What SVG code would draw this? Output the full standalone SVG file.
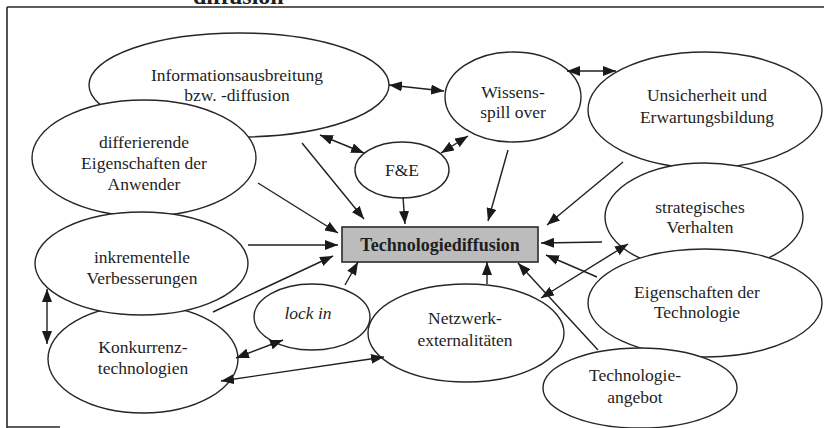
<svg xmlns="http://www.w3.org/2000/svg" width="824" height="428" viewBox="0 0 824 428">
  <defs>
    <marker id="ah" viewBox="0 0 13 10" refX="13" refY="5" markerWidth="13" markerHeight="10" markerUnits="userSpaceOnUse" orient="auto-start-reverse">
      <path d="M0,0 L13,5 L0,10 z" fill="#1a1a1a"/>
    </marker>
  </defs>
  <style>
    .frame { stroke: #2a2a2a; stroke-width: 1.6; fill: none; }
    .node ellipse { fill: #ffffff; stroke: #262626; stroke-width: 1.4; }
    .lbl { font-family: "Liberation Serif", "Times New Roman", serif; font-size: 17.5px; fill: #1e1e1e; text-anchor: middle; }
    .it { font-style: italic; }
    .title { font-family: "Liberation Serif", "Times New Roman", serif; font-size: 24px; font-weight: bold; fill: #1e1e1e; }
    .box { fill: #bcbcbc; stroke: #2a2a2a; stroke-width: 1.6; }
    .boxlbl { font-family: "Liberation Serif", "Times New Roman", serif; font-size: 18px; font-weight: bold; fill: #1e1e1e; text-anchor: middle; }
    .c line { stroke: #1f1f1f; stroke-width: 1.4; fill: none; }
    .one { marker-end: url(#ah); }
    .two { marker-start: url(#ah); marker-end: url(#ah); }
  </style>

  <rect width="824" height="428" fill="#ffffff"/>

  <!-- caption cut by the top edge and the frame -->
  <text class="title" x="193" y="4">diffusion</text>
  <path class="frame" d="M7,7 H824 M7,7 V428 M7,427 H60"/>

  <!-- nodes -->
  <g id="informationsausbreitung" class="node">
    <ellipse cx="239" cy="85" rx="150" ry="52"/>
    <text class="lbl" x="237" y="81">Informationsausbreitung</text>
    <text class="lbl" x="237" y="101">bzw. -diffusion</text>
  </g>
  <g id="differierende-eigenschaften" class="node">
    <ellipse cx="144" cy="158" rx="112" ry="58"/>
    <text class="lbl" x="144" y="148">differierende</text>
    <text class="lbl" x="144" y="169">Eigenschaften der</text>
    <text class="lbl" x="144" y="190">Anwender</text>
  </g>
  <g id="konkurrenztechnologien" class="node">
    <ellipse cx="143" cy="359" rx="95" ry="54"/>
    <text class="lbl" x="143" y="353">Konkurrenz-</text>
    <text class="lbl" x="143" y="374">technologien</text>
  </g>
  <g id="inkrementelle-verbesserungen" class="node">
    <ellipse cx="141.5" cy="263.5" rx="106.5" ry="51.5"/>
    <text class="lbl" x="142" y="263">inkrementelle</text>
    <text class="lbl" x="142" y="284">Verbesserungen</text>
  </g>
  <g id="f-und-e" class="node">
    <ellipse cx="402" cy="170" rx="47" ry="28"/>
    <text class="lbl" x="402" y="176">F&amp;E</text>
  </g>
  <g id="wissens-spill-over" class="node">
    <ellipse cx="513" cy="97" rx="68" ry="45"/>
    <text class="lbl" x="513" y="98">Wissens-</text>
    <text class="lbl" x="513" y="118">spill over</text>
  </g>
  <g id="unsicherheit" class="node">
    <ellipse cx="705" cy="110" rx="117" ry="58"/>
    <text class="lbl" x="707" y="101">Unsicherheit und</text>
    <text class="lbl" x="707" y="123">Erwartungsbildung</text>
  </g>
  <g id="strategisches-verhalten" class="node">
    <ellipse cx="704" cy="217" rx="99" ry="54"/>
    <text class="lbl" x="700" y="213">strategisches</text>
    <text class="lbl" x="700" y="233">Verhalten</text>
  </g>
  <g id="eigenschaften-technologie" class="node">
    <ellipse cx="705" cy="303" rx="117" ry="54"/>
    <text class="lbl" x="697" y="298">Eigenschaften der</text>
    <text class="lbl" x="697" y="318">Technologie</text>
  </g>
  <g id="technologieangebot" class="node">
    <ellipse cx="640" cy="388" rx="97" ry="40"/>
    <text class="lbl" x="635" y="381">Technologie-</text>
    <text class="lbl" x="635" y="403">angebot</text>
  </g>
  <g id="lock-in" class="node">
    <ellipse cx="312" cy="317" rx="58" ry="33"/>
    <text class="lbl it" x="308" y="319">lock in</text>
  </g>
  <g id="netzwerkexternalitaeten" class="node">
    <ellipse cx="466" cy="333" rx="98" ry="49"/>
    <text class="lbl" x="465" y="324">Netzwerk-</text>
    <text class="lbl" x="465" y="346">externalitäten</text>
  </g>
  <g id="technologiediffusion" class="node">
    <rect class="box" x="342" y="227" width="196" height="35"/>
    <text class="boxlbl" x="440" y="251">Technologiediffusion</text>
  </g>

  <!-- connectors -->
  <g id="connectors" class="c">
    <line class="two" x1="389" y1="85" x2="444" y2="91"/>
    <line class="two" x1="567" y1="71" x2="616" y2="71"/>
    <line class="two" x1="320" y1="135" x2="364" y2="153"/>
    <line class="two" x1="441" y1="153" x2="468" y2="136"/>
    <line class="two" x1="47" y1="289" x2="47" y2="344"/>
    <line class="two" x1="236" y1="358" x2="283" y2="340"/>
    <line class="two" x1="221" y1="381" x2="384" y2="357"/>
    <line class="two" x1="541" y1="298" x2="628" y2="244"/>
    <line class="one" x1="403" y1="197" x2="405" y2="224"/>
    <line class="one" x1="302" y1="143" x2="364" y2="219"/>
    <line class="one" x1="258" y1="183" x2="338" y2="233"/>
    <line class="one" x1="248" y1="245" x2="338" y2="245"/>
    <line class="one" x1="213" y1="312" x2="333" y2="256"/>
    <line class="one" x1="345" y1="285" x2="358" y2="262"/>
    <line class="one" x1="487" y1="284" x2="487" y2="262"/>
    <line class="one" x1="598" y1="350" x2="518" y2="263"/>
    <line class="one" x1="602" y1="242" x2="541" y2="243"/>
    <line class="one" x1="597" y1="277" x2="546" y2="255"/>
    <line class="one" x1="623" y1="162" x2="547" y2="225"/>
    <line class="one" x1="508" y1="150" x2="488" y2="221"/>
  </g>
</svg>
